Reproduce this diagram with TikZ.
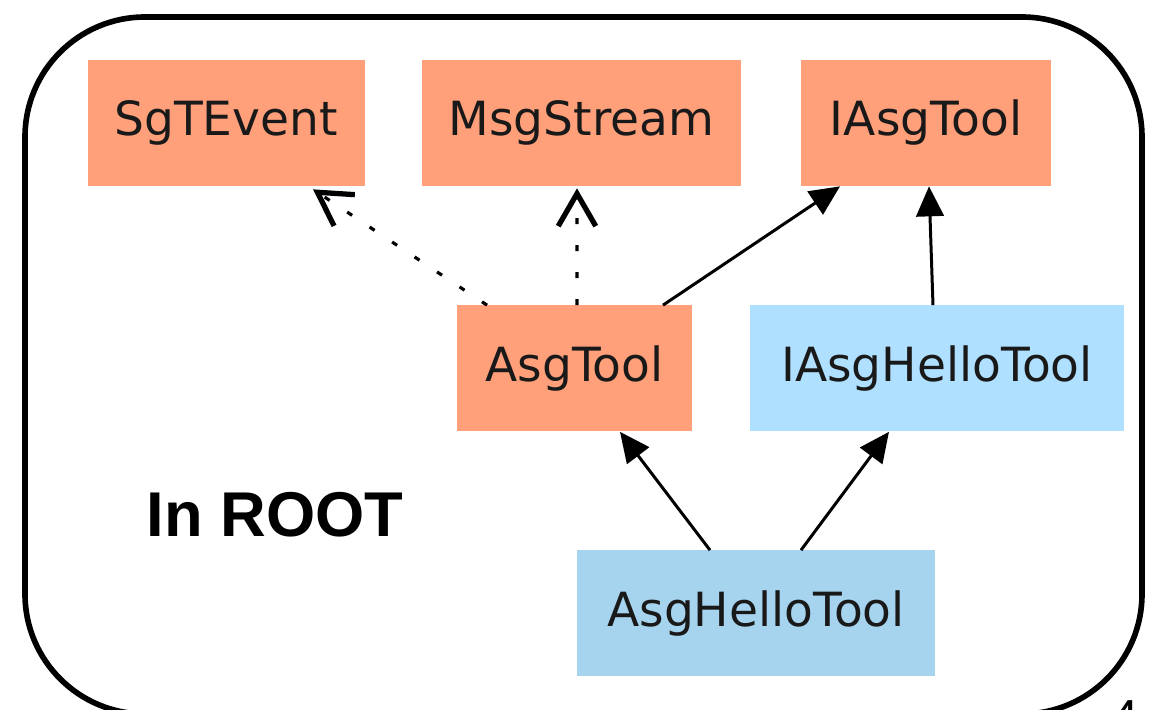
\documentclass[tikz,border=0pt]{standalone}
\usepackage{fontspec}
\usepackage{xcolor}
\usepackage{tikz}
\usetikzlibrary{arrows.meta,positioning,calc}
\newfontfamily\dvsans{DejaVu Sans}
\newfontfamily\arialsans{Liberation Sans}
\definecolor{salmon}{HTML}{FFA07A}
\definecolor{skyone}{HTML}{B0E0FF}
\definecolor{skytwo}{HTML}{A6D3EE}
\tikzset{
  classbox/.style={
    rectangle, fill=#1, draw=none,
    minimum height=2.52cm, inner sep=0pt,
    font=\dvsans\fontsize{26.8}{30}\selectfont, text=black!90
  },
  classbox/.default=salmon,
  inherit/.style={
    -{Triangle[length=0.6cm, width=0.55cm]}, line width=1.7pt
  },
  uses/.style={
    -{Straight Barb[length=0.65cm, width=0.75cm, line width=3pt]},
    line width=1.8pt, dash pattern=on 0.12cm off 0.42cm
  },
  frame/.style={line width=3.2pt, rounded corners=2.4cm},
}

\begin{document}
\begin{tikzpicture}
    \useasboundingbox (0,0) rectangle (23.08,14.2);
    % outer rounded frame
    \draw[frame] (0.5,-0.08) rectangle (22.84,13.86);

    % top row
    \node[classbox, minimum width=5.54cm] (sgtevent) at (4.52,11.74) {SgTEvent};
    \node[classbox, minimum width=6.38cm] (msgstream) at (11.63,11.74) {MsgStream};
    \node[classbox, minimum width=5.0cm] (iasgtool) at (18.52,11.74) {IAsgTool};
    % middle row
    \node[classbox, minimum width=4.7cm] (asgtool) at (11.49,6.83) {AsgTool};
    \node[classbox=skyone, minimum width=7.48cm] (iasghellotool) at (18.74,6.83) {IAsgHelloTool};
    % bottom
    \node[classbox=skytwo, minimum width=7.16cm] (asghellotool) at (15.12,1.93) {AsgHelloTool};

    \node[font=\arialsans\bfseries\fontsize{36}{40}\selectfont] (inroot) at (5.5,3.9) {In ROOT};
    \node[font=\arialsans\fontsize{28}{32}\selectfont, anchor=north, inner sep=0pt] (pagenum) at (22.5,0.2) {4};

    % usage links
    \draw[uses] ($(asgtool.north)+(-1.75,0)$) -- ($(sgtevent.south)+(1.74,-0.06)$);
    \draw[uses] ($(asgtool.north)+(0.05,0)$) -- ($(msgstream.south)+(-0.09,-0.04)$);
    % inheritance
    \draw[inherit] ($(asgtool.north)+(1.77,0)$) -- ($(iasgtool.south)+(-1.72,0)$);
    \draw[inherit] ($(iasghellotool.north)+(-0.08,0)$) -- ($(iasgtool.south)+(0.06,0)$);
    \draw[inherit] ($(asghellotool.north)+(-0.92,0)$) -- ($(asgtool.south)+(0.91,0)$);
    \draw[inherit] ($(asghellotool.north)+(0.9,0)$) -- ($(iasghellotool.south)+(-0.96,0)$);
\end{tikzpicture}
\end{document}
